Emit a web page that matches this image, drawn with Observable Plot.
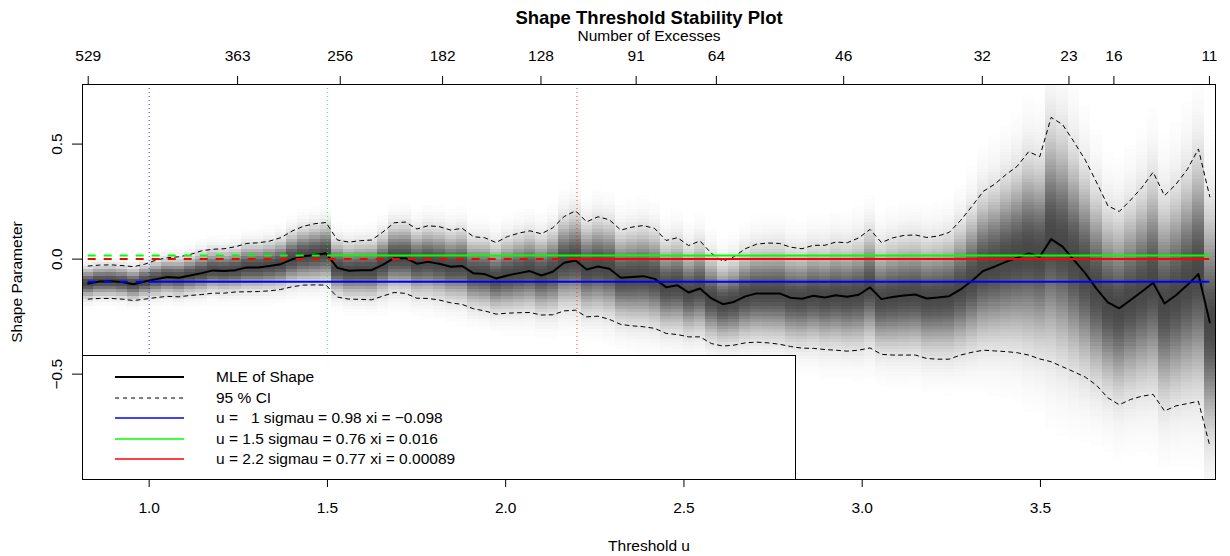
<!DOCTYPE html>
<html><head><meta charset="utf-8">
<script src="https://cdn.jsdelivr.net/npm/d3@7"></script>
<script src="https://cdn.jsdelivr.net/npm/@observablehq/plot@0.6"></script>
<style>
html,body{margin:0;padding:0;background:#fff;}
#wrap{position:relative;width:1230px;height:556px;font-family:"Liberation Sans",Arial,Helvetica,sans-serif;}
#legend{position:absolute;left:82px;top:355px;width:714px;height:125px;box-sizing:border-box;border:1px solid #000;background:#fff;z-index:2;font-size:15.5px;color:#000;}
#legend .row{position:absolute;left:0;height:20px;line-height:20px;white-space:pre;}
#legend svg{position:absolute;left:32px;top:0;}
#legend .lab{position:absolute;left:133px;top:0;}
</style></head><body><div id="wrap"></div>
<script>
// Threshold grid (x categories)
const thresholds = [0.829,0.861,0.893,0.924,0.956,0.988,1.020,1.051,1.083,1.115,
1.147,1.179,1.210,1.242,1.274,1.306,1.337,1.369,1.401,1.433,
1.465,1.496,1.528,1.560,1.592,1.624,1.655,1.687,1.719,1.751,
1.782,1.814,1.846,1.878,1.910,1.941,1.973,2.005,2.037,2.068,
2.100,2.132,2.164,2.196,2.227,2.259,2.291,2.323,2.354,2.386,
2.418,2.450,2.482,2.513,2.545,2.577,2.609,2.640,2.672,2.704,
2.736,2.768,2.799,2.831,2.863,2.895,2.926,2.958,2.990,3.022,
3.054,3.085,3.117,3.149,3.181,3.212,3.244,3.276,3.308,3.340,
3.371,3.403,3.435,3.467,3.498,3.530,3.562,3.594,3.626,3.657,
3.689,3.721,3.753,3.784,3.816,3.848,3.880,3.912,3.943,3.975];
// MLE of shape
const mle = [-0.106,-0.097,-0.096,-0.100,-0.109,-0.097,-0.087,-0.078,-0.081,-0.071,
-0.061,-0.049,-0.052,-0.048,-0.036,-0.036,-0.030,-0.022,-0.001,0.012,
0.018,0.025,-0.038,-0.051,-0.048,-0.048,-0.025,0.004,0.004,-0.020,
-0.012,-0.020,-0.033,-0.030,-0.062,-0.065,-0.084,-0.071,-0.061,-0.052,
-0.071,-0.055,-0.016,-0.006,-0.045,-0.032,-0.042,-0.081,-0.078,-0.074,
-0.086,-0.122,-0.114,-0.145,-0.128,-0.171,-0.196,-0.186,-0.162,-0.149,
-0.149,-0.149,-0.168,-0.172,-0.159,-0.167,-0.157,-0.164,-0.155,-0.123,
-0.174,-0.165,-0.158,-0.154,-0.171,-0.167,-0.161,-0.132,-0.094,-0.051,
-0.033,-0.012,0.006,0.025,0.010,0.087,0.054,-0.004,-0.062,-0.128,
-0.188,-0.214,-0.178,-0.142,-0.103,-0.193,-0.157,-0.113,-0.065,-0.275];
// 95% CI upper
const ciUpper = [-0.030,-0.026,-0.025,-0.028,-0.033,-0.022,-0.004,0.006,0.010,0.020,
0.036,0.043,0.045,0.054,0.068,0.071,0.078,0.093,0.122,0.143,
0.154,0.159,0.083,0.074,0.080,0.083,0.117,0.158,0.161,0.131,
0.145,0.141,0.126,0.134,0.097,0.093,0.072,0.098,0.113,0.123,
0.110,0.136,0.185,0.210,0.162,0.184,0.171,0.126,0.139,0.146,
0.133,0.081,0.093,0.059,0.079,0.025,-0.010,0.010,0.045,0.065,
0.070,0.068,0.052,0.045,0.060,0.060,0.074,0.071,0.092,0.129,
0.072,0.092,0.103,0.105,0.094,0.100,0.116,0.168,0.230,0.295,
0.325,0.367,0.404,0.467,0.445,0.616,0.585,0.510,0.430,0.335,
0.232,0.207,0.257,0.310,0.378,0.276,0.325,0.390,0.479,0.271];
// 95% CI lower
const ciLower = [-0.174,-0.171,-0.171,-0.174,-0.180,-0.174,-0.167,-0.162,-0.164,-0.158,
-0.154,-0.148,-0.148,-0.143,-0.142,-0.141,-0.138,-0.132,-0.120,-0.113,
-0.112,-0.113,-0.165,-0.174,-0.175,-0.177,-0.161,-0.145,-0.149,-0.170,
-0.171,-0.178,-0.190,-0.197,-0.216,-0.225,-0.239,-0.235,-0.233,-0.232,
-0.243,-0.242,-0.225,-0.222,-0.251,-0.248,-0.262,-0.284,-0.290,-0.294,
-0.301,-0.323,-0.328,-0.338,-0.338,-0.367,-0.378,-0.374,-0.364,-0.361,
-0.364,-0.370,-0.380,-0.387,-0.388,-0.393,-0.396,-0.400,-0.396,-0.386,
-0.414,-0.417,-0.417,-0.417,-0.432,-0.435,-0.435,-0.417,-0.405,-0.396,
-0.399,-0.402,-0.407,-0.417,-0.434,-0.446,-0.468,-0.490,-0.513,-0.548,
-0.603,-0.633,-0.610,-0.596,-0.588,-0.660,-0.638,-0.628,-0.618,-0.812];
// Top axis: number of excesses
const excessTickU = [0.829,1.248,1.536,1.823,2.099,2.366,2.591,2.948,3.337,3.580,3.706,3.974];
const excessLabels = ["529","363","256","182","128","91","64","46","32","23","16","11"];
// Bottom / left ticks
const xTicks = [1.0,1.5,2.0,2.5,3.0,3.5];
const yTicks = [-0.5,0.0,0.5];
// Chosen thresholds and fitted parameters
const fitU = [1, 1.5, 2.2];
const fitUText = ["  1", "1.5", "2.2"];
const fitSigma = ["0.98", "0.76", "0.77"];
const fitXi = [-0.098, 0.016, 0.00089];
const fitXiText = ["\u22120.098", "0.016", "0.00089"];
const fitColors = ["#0000ff", "#00ff00", "#ff0000"];

const series = thresholds.map((u,i)=>({u, mle: mle[i], hi: ciUpper[i], lo: ciLower[i]}));
const fits = fitU.map((u,i)=>({u, xi: fitXi[i], color: fitColors[i]}));
const n = thresholds.length;
const uFirst = thresholds[0], uLast = thresholds[n-1];
// column edges at midpoints between neighbouring thresholds
const edges = thresholds.map((u,i)=> i===0 ? u - (thresholds[1]-u)/2 : (thresholds[i-1]+u)/2);
edges.push(uLast + (uLast - thresholds[n-2])/2);
const yDomain = [-0.958, 0.759];
const binH = 0.0145;
const cells = [];
series.forEach((d,i)=>{
  const s = (d.hi - d.lo)/3.92;
  for (let k=0;;k++){
    const y1 = yDomain[0] + k*binH;
    if (y1 >= yDomain[1]) break;
    const y2 = Math.min(y1+binH, yDomain[1]);
    const z = ((y1+y2)/2 - d.mle)/s;
    const g = 1 - 0.72*Math.exp(-0.5*z*z);
    if (g > 0.993) continue;
    const lv = Math.round(g*255);
    cells.push({x1: edges[i], x2: edges[i+1], y1, y2, fill:`rgb(${lv},${lv},${lv})`});
  }
});
const fmt1 = d3.format(".1f");
const excessMap = new Map(excessTickU.map((u,i)=>[u, excessLabels[i]]));

const chart = Plot.plot({
  width: 1230, height: 556,
  marginLeft: 82, marginRight: 15, marginTop: 84, marginBottom: 77,
  x: {domain: [edges[0], edges[n]], label: null},
  y: {domain: yDomain, label: null},
  color: {type: "identity"},
  style: {fontFamily: '"Liberation Sans", Arial, Helvetica, sans-serif', fontSize: "15.5px", background: "white", color: "black", overflow: "visible"},
  marks: [
    Plot.rect(cells, {x1:"x1", x2:"x2", y1:"y1", y2:"y2", fill:"fill", shapeRendering:"crispEdges"}),
    Plot.ruleX(fits, {x:"u", stroke:"color", strokeWidth:1, strokeDasharray:"1,3", strokeOpacity:0.75}),
    Plot.line(series, {x:"u", y:"hi", stroke:"black", strokeWidth:1, strokeDasharray:"4,4"}),
    Plot.line(series, {x:"u", y:"lo", stroke:"black", strokeWidth:1, strokeDasharray:"4,4"}),
    Plot.line(series, {x:"u", y:"mle", stroke:"black", strokeWidth:2}),
    Plot.ruleY(fits, {y:"xi", x1:()=>uFirst, x2:"u", stroke:"color", strokeWidth:2, strokeDasharray:"8,8"}),
    Plot.ruleY(fits, {y:"xi", x1:"u", x2:()=>uLast, stroke:"color", strokeWidth:2}),
    Plot.frame({stroke:"black"}),
    Plot.axisX({anchor:"bottom", ticks: xTicks, tickFormat: fmt1, tickSize: 8, tickPadding: 14, label: null}),
    Plot.axisX({anchor:"top", ticks: excessTickU, tickFormat: d=>excessMap.get(d), tickSize: 9, tickPadding: 15, label: null}),
    Plot.axisY({anchor:"left", ticks: yTicks, tickFormat: fmt1, tickSize: 10, tickRotate: -90, tickPadding: 11, label: null}),
    Plot.text(["Shape Threshold Stability Plot"], {frameAnchor:"top", dy:-66, lineAnchor:"middle", text:d=>d, fontWeight:"bold", fontSize:18.5}),
    Plot.text(["Number of Excesses"], {frameAnchor:"top", dy:-48, lineAnchor:"middle", text:d=>d}),
    Plot.text(["Threshold u"], {frameAnchor:"bottom", dy:67, lineAnchor:"middle", text:d=>d}),
    Plot.text(["Shape Parameter"], {frameAnchor:"left", dx:-65, rotate:-90, textAnchor:"middle", lineAnchor:"middle", text:d=>d})
  ]
});
const wrap = document.getElementById("wrap");
wrap.appendChild(chart);

// Legend
const legend = document.createElement("div");
legend.id = "legend";
const items = [
  {label:"MLE of Shape", color:"#000", width:2, dash:null},
  {label:"95 % CI", color:"#000", width:1, dash:"4,4"}
].concat(fitU.map((u,i)=>({label:`u = ${fitUText[i]} sigmau = ${fitSigma[i]} xi = ${fitXiText[i]}`, color:fitColors[i], width:1.5, dash:null})));
const rowCenters = [21, 41.5, 62, 82.5, 103];
items.forEach((it,i)=>{
  const row = document.createElement("div");
  row.className = "row";
  row.style.top = (rowCenters[i]-10)+"px";
  row.style.width = "700px";
  row.innerHTML = `<svg width="70" height="20"><line x1="0" x2="69" y1="10" y2="10" stroke="${it.color}" stroke-width="${it.width}" ${it.dash?`stroke-dasharray="${it.dash}"`:""}/></svg><span class="lab">${it.label}</span>`;
  legend.appendChild(row);
});
wrap.appendChild(legend);
</script>
</body></html>
